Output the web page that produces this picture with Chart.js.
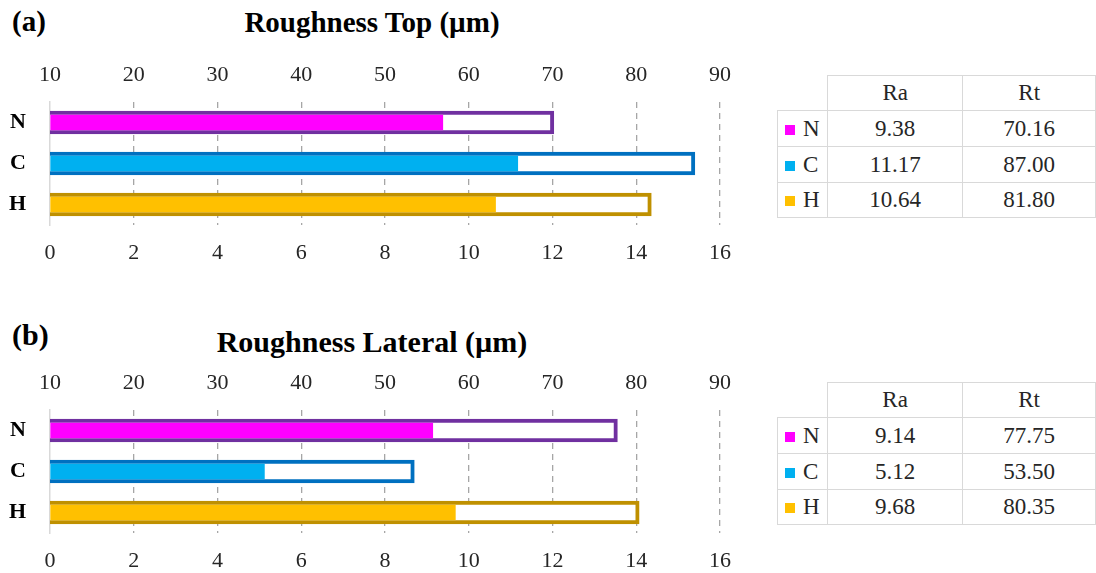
<!DOCTYPE html>
<html>
<head>
<meta charset="utf-8">
<script src="https://cdn.jsdelivr.net/npm/chart.js@4/dist/chart.umd.min.js"></script>
<style>
  html, body { margin: 0; padding: 0; background: #fff; }
  #fig { position: relative; width: 1096px; height: 573px; overflow: hidden; background: #fff; }
  .panel { position: absolute; left: 0; width: 1096px; height: 300px; }
  .panel canvas { position: absolute; left: 0; top: 0; }
  .tag, .title { position: absolute; font-family: 'Liberation Serif', 'Times New Roman', serif;
                 font-weight: bold; color: #000; white-space: nowrap; }
  .tag { left: 12px; }
  .title { left: 0; width: 744px; text-align: center; }
  table.vals { position: absolute; left: 777px; border-collapse: collapse; table-layout: fixed;
               font-family: 'Liberation Serif', 'Times New Roman', serif; font-size: 23px; color: #262626; }
  table.vals td { border: 1.5px solid #d9d9d9; text-align: center; vertical-align: middle; padding: 0; }
  table.vals td.blank { border: none; }
  table.vals td.name { text-align: left; padding-left: 7px; }
  .key { display: inline-block; width: 10px; height: 10px; margin-right: 8px; vertical-align: 1px; }
</style>
</head>
<body>
<div id="fig">
  <div class="panel" id="panelA" style="top:0px">
    <div class="tag" style="top:5px; font-size:29px; line-height:32px">(a)</div>
    <div class="title" style="top:6px; font-size:29px; line-height:32px">Roughness Top (µm)</div>
    <canvas id="chartA" width="760" height="290"></canvas>
    <table class="vals" id="tableA" style="top:75px"></table>
  </div>
  <div class="panel" id="panelB" style="top:308px">
    <div class="tag" style="top:10px; font-size:30px; line-height:33px">(b)</div>
    <div class="title" style="top:17px; font-size:30px; line-height:33px">Roughness Lateral (µm)</div>
    <canvas id="chartB" width="760" height="290"></canvas>
    <table class="vals" id="tableB" style="top:74px"></table>
  </div>
</div>
<script>
// Surfaces measured
const categories = ['N', 'C', 'H'];

// Top surface roughness (µm)
const topRa = [9.38, 11.17, 10.64];
const topRt = [70.16, 87.00, 81.80];

// Lateral surface roughness (µm)
const latRa = [9.14, 5.12, 9.68];
const latRt = [77.75, 53.50, 80.35];

// Axis ranges: Ra on the bottom axis, Rt on the top axis
const raRange = [0, 16];
const raStep = 2;
const rtRange = [10, 90];
const rtStep = 10;

// Series colours per surface
const fillColors = ['#FF00FF', '#00B0F0', '#FFC000'];
const edgeColors = ['#7030A0', '#0070C0', '#BF9000'];

const serif = "'Liberation Serif', 'Times New Roman', serif";

function buildChart(canvasId, ra, rt) {
  return new Chart(document.getElementById(canvasId), {
    type: 'bar',
    data: {
      labels: categories,
      datasets: [
        {
          label: 'Ra',
          data: ra,
          xAxisID: 'xRa',
          backgroundColor: fillColors,
          borderWidth: 0,
          barThickness: 15,
          grouped: false,
          order: 0
        },
        {
          label: 'Rt',
          data: rt,
          xAxisID: 'xRt',
          backgroundColor: '#FFFFFF',
          borderColor: edgeColors,
          borderWidth: 4,
          borderSkipped: false,
          barThickness: 23,
          grouped: false,
          order: 1
        }
      ]
    },
    options: {
      indexAxis: 'y',
      responsive: false,
      animation: false,
      devicePixelRatio: 1,
      layout: { padding: { top: 0, left: 0, right: 40, bottom: 0 } },
      plugins: {
        legend: { display: false },
        tooltip: { enabled: false },
        title: { display: false }
      },
      scales: {
        y: {
          type: 'category',
          position: 'left',
          grid: { display: false, drawTicks: false },
          border: { display: true, color: '#D9D9D9', width: 1.5 },
          ticks: { color: '#000', padding: 24, font: { family: serif, size: 22, weight: 'bold' } },
          afterFit: s => { s.width = 50; }
        },
        xRt: {
          type: 'linear',
          position: 'top',
          min: rtRange[0],
          max: rtRange[1],
          grid: { display: false, drawTicks: false },
          border: { display: false },
          ticks: {
            stepSize: rtStep, autoSkip: false, maxRotation: 0, padding: 14,
            color: '#262626', font: { family: serif, size: 22 }
          },
          afterFit: s => { s.height = 102; }
        },
        xRa: {
          type: 'linear',
          position: 'bottom',
          min: raRange[0],
          max: raRange[1],
          grid: {
            drawTicks: false,
            lineWidth: 1.3,
            color: c => (c.tick && c.tick.value === raRange[0]) ? 'rgba(0,0,0,0)' : '#A6A6A6'
          },
          border: { display: false, dash: [6, 5] },
          ticks: {
            stepSize: raStep, autoSkip: false, maxRotation: 0, padding: 15,
            color: '#262626', font: { family: serif, size: 22 }
          },
          afterFit: s => { s.height = 65; }
        }
      }
    }
  });
}

function buildTable(tableId, ra, rt) {
  const t = document.getElementById(tableId);
  const cols = '<colgroup><col style="width:51px"><col style="width:139px"><col style="width:136px"></colgroup>';
  let html = cols + '<tr style="height:35px"><td class="blank"></td><td>Ra</td><td>Rt</td></tr>';
  const heights = [36, 36, 35];
  categories.forEach((c, i) => {
    html += '<tr style="height:' + heights[i] + 'px"><td class="name"><span class="key" style="background:' +
      fillColors[i] + '"></span>' + c + '</td><td>' + ra[i].toFixed(2) + '</td><td>' + rt[i].toFixed(2) + '</td></tr>';
  });
  t.innerHTML = html;
}

buildChart('chartA', topRa, topRt);
buildChart('chartB', latRa, latRt);
buildTable('tableA', topRa, topRt);
buildTable('tableB', latRa, latRt);
</script>
</body>
</html>
